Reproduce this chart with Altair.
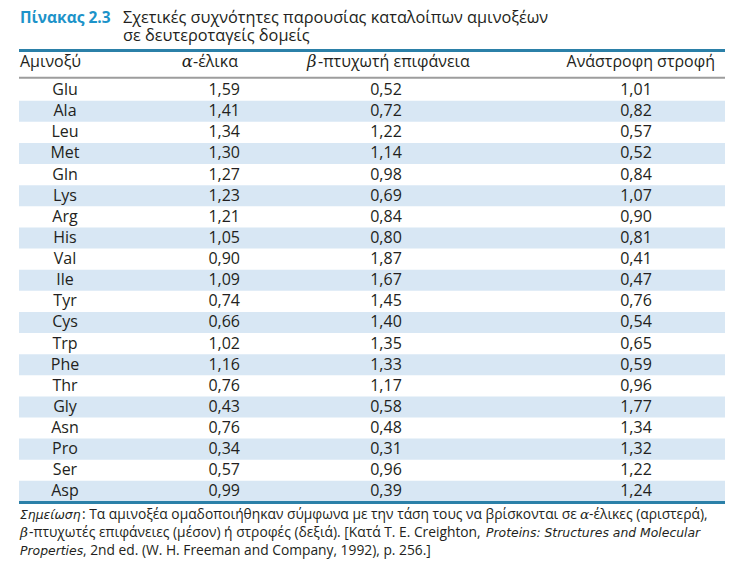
import altair as alt
import pandas as pd

amino = ["Glu", "Ala", "Leu", "Met", "Gln", "Lys", "Arg", "His", "Val", "Ile",
         "Tyr", "Cys", "Trp", "Phe", "Thr", "Gly", "Asn", "Pro", "Ser", "Asp"]
alpha = ["1,59", "1,41", "1,34", "1,30", "1,27", "1,23", "1,21", "1,05", "0,90", "1,09",
         "0,74", "0,66", "1,02", "1,16", "0,76", "0,43", "0,76", "0,34", "0,57", "0,99"]
beta = ["0,52", "0,72", "1,22", "1,14", "0,98", "0,69", "0,84", "0,80", "1,87", "1,67",
        "1,45", "1,40", "1,35", "1,33", "1,17", "0,58", "0,48", "0,31", "0,96", "0,39"]
turn = ["1,01", "0,82", "0,57", "0,52", "0,84", "1,07", "0,90", "0,81", "0,41", "0,47",
        "0,76", "0,54", "0,65", "0,59", "0,96", "1,77", "1,34", "1,32", "1,22", "1,24"]

title_label = "Πίνακας 2.3"
title_lines = ["Σχετικές συχνότητες παρουσίας καταλοίπων αμινοξέων", "σε δευτεροταγείς δομείς"]
headers = ["Αμινοξύ", "-έλικα", "-πτυχωτή επιφάνεια", "Ανάστροφη στροφή"]

df = pd.DataFrame({"i": list(range(len(amino))), "aa": amino,
                   "alpha": alpha, "beta": beta, "turn": turn})

W, H = 727, 551
BODY = "'Liberation Sans Narrow', 'Open Sans', sans-serif"
HEAD = "'Open Sans', 'Noto Sans', sans-serif"
SERIF = "'DejaVu Serif', serif"
IT = "'DejaVu Sans', sans-serif"
INK = "#231f20"
BLUE_LINE = "#2b80a8"
TITLE_BLUE = "#1d93c9"
STRIPE = "#d8e7f4"
X0, X1 = 11, 717

yscale = alt.Scale(domain=[-3.889, 22.20], reverse=True, nice=False, zero=False)
Y = alt.Y("i:Q", scale=yscale, axis=None)

base = alt.Chart(df)

stripes = base.transform_filter("datum.i % 2 == 1").transform_calculate(
    top="datum.i - 0.5", bot="datum.i + 0.5"
).mark_rect(color=STRIPE).encode(
    x=alt.value(X0), x2=alt.value(X1),
    y=alt.Y("top:Q", scale=yscale, axis=None), y2="bot:Q"
)

def col(field, x, align):
    return base.mark_text(font=BODY, fontSize=16, color=INK, align=align,
                          baseline="middle").encode(x=alt.value(x), y=Y, text=f"{field}:N")

names = col("aa", 57, "center")
c_alpha = col("alpha", 232, "right")
c_beta = col("beta", 378, "center")
c_turn = col("turn", 628, "center")

one = pd.DataFrame({"k": [0]})
o = alt.Chart(one)

def txt(s, x, y, size, font=HEAD, align="left", color=INK, weight="normal", style="normal", baseline="alphabetic"):
    return o.mark_text(text=s, font=font, fontSize=size, align=align, color=color,
                       fontWeight=weight, fontStyle=style, baseline=baseline).encode(
        x=alt.value(x), y=alt.value(y))

def rule(y, color, width):
    return o.mark_rule(color=color, strokeWidth=width).encode(
        x=alt.value(X0), x2=alt.value(X1), y=alt.value(y))

layers = [
    stripes,
    rule(42.5, BLUE_LINE, 3),
    rule(69.7, "#9d9d9d", 2),
    rule(494.5, BLUE_LINE, 3),
    txt(title_label, 12, 15, 15.5, weight="bold", color=TITLE_BLUE),
    txt(title_lines[0], 115, 15, 16.3),
    txt(title_lines[1], 115, 32.5, 16.3),
    txt(headers[0], 12, 58.5, 16),
    txt("α", 185, 58.5, 16.5, font=SERIF, style="italic", align="right"),
    txt(headers[1], 185, 58.5, 16),
    txt("β", 299, 58.5, 16.5, font=SERIF, style="italic"),
    txt(headers[2], 310, 58.5, 16),
    txt(headers[3], 707, 58.5, 16, align="right"),
    names, c_alpha, c_beta, c_turn,
]

# footnote
FS = 13.8
IFS = 12.4
fy = [511, 529, 547]
layers += [
    txt("Σημείωση", 12, fy[0], IFS, font=IT, style="italic"),
    txt(": Τα αμινοξέα ομαδοποιήθηκαν σύμφωνα με την τάση τους να βρίσκονται σε", 74, fy[0], FS, font=BODY),
    txt("α", 572, fy[0], FS, font=SERIF, style="italic"),
    txt("-έλικες (αριστερά),", 581, fy[0], FS, font=BODY),
    txt("β", 12, fy[1], FS, font=SERIF, style="italic"),
    txt("-πτυχωτές επιφάνειες (μέσον) ή στροφές (δεξιά). [Κατά T. E. Creighton,", 21, fy[1], FS, font=BODY),
    txt("Proteins: Structures and Molecular", 478, fy[1], IFS, font=IT, style="italic"),
    txt("Properties", 12, fy[2], IFS, font=IT, style="italic"),
    txt(", 2nd ed. (W. H. Freeman and Company, 1992), p. 256.]", 75, fy[2], FS, font=BODY),
]

chart = alt.layer(*layers).properties(
    width=W, height=H, autosize=alt.AutoSizeParams(type="none"), padding=0
).configure_view(strokeWidth=0)

chart.save("out.html", embed_options={"renderer": "svg", "actions": False})
